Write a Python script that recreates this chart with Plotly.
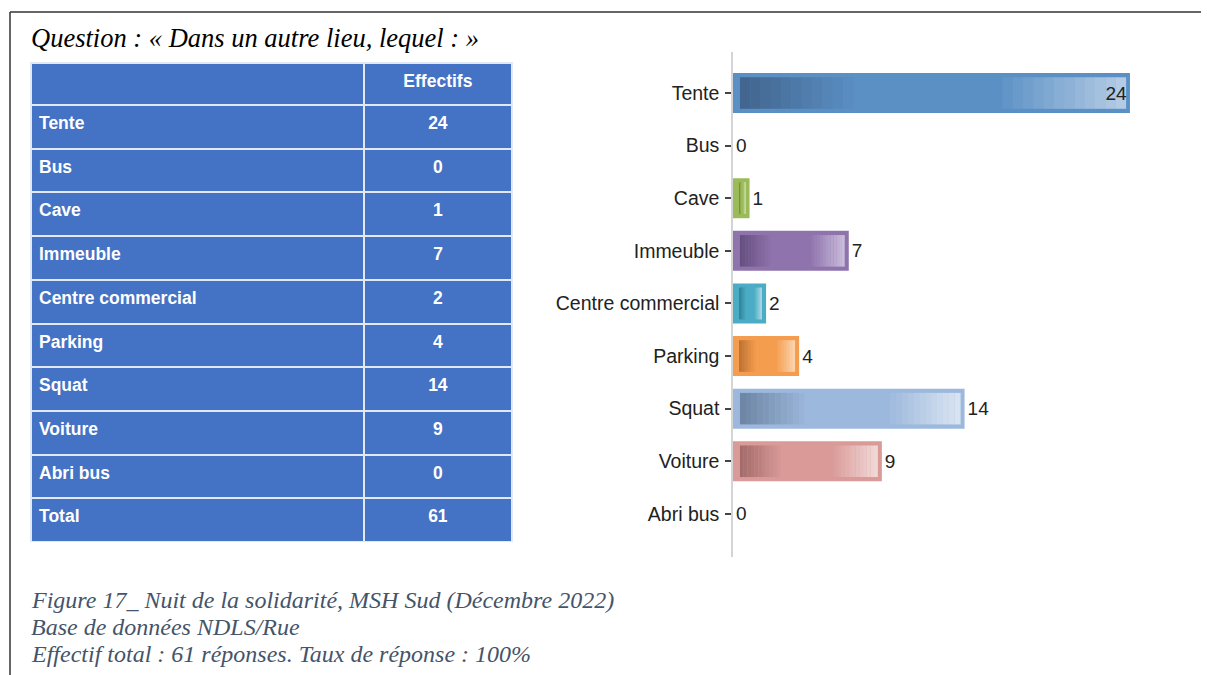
import plotly.graph_objects as go

# ---------------- data ----------------
categories = ["Tente", "Bus", "Cave", "Immeuble", "Centre commercial",
              "Parking", "Squat", "Voiture", "Abri bus"]
effectifs = [24, 0, 1, 7, 2, 4, 14, 9, 0]
total_label = "Total"
total_value = sum(effectifs)  # 61
header_labels = ["", "Effectifs"]

title_text = "Question : « Dans un autre lieu, lequel : »"
caption_lines = [
    "Figure 17_ Nuit de la solidarité, MSH Sud (Décembre 2022)",
    "Base de données NDLS/Rue",
    "Effectif total : 61 réponses. Taux de réponse : 100%",
]

# ---------------- styles ----------------
main_colors = ["#5b90c5", "#4f81bd", "#9bbb59", "#8f73ac", "#4bacc6",
               "#f59d4f", "#9cb8dc", "#d99a98", "#c0504d"]
dark_colors = ["#42668f", "#3a5f8c", "#76933c", "#664f80", "#31859c",
               "#c07433", "#6f86a5", "#a46d6b", "#8f3b39"]
light_colors = ["#b3cbe4", "#a7c0de", "#c3d69b", "#c9bcdb", "#a5d5e2",
                "#fbd2ab", "#d8e3f1", "#f0d8d7", "#e6b9b8"]

OFF = 8  # page body margin
W, H = 1209 - OFF, 675 - OFF


def px_x(p):
    return (p - OFF) / W


def px_y(p):
    return 1 - (p - OFF) / H


def hex2rgb(h):
    h = h.lstrip("#")
    return tuple(int(h[i:i + 2], 16) for i in (0, 2, 4))


def mix(c1, c2, t):
    a, b = hex2rgb(c1), hex2rgb(c2)
    return "rgb({},{},{})".format(*[round(a[i] + (b[i] - a[i]) * t) for i in range(3)])


SANS = "Liberation Sans, Arial, sans-serif"
SERIF = "Liberation Serif, Times New Roman, serif"

fig = go.Figure()

# ---------------- table ----------------
col1 = ["<b>%s</b>" % c for c in categories] + ["<b>%s</b>" % total_label]
col2 = ["<b>%d</b>" % v for v in effectifs] + ["<b>%d</b>" % total_value]
fig.add_trace(go.Table(
    domain=dict(x=[px_x(31), px_x(512)], y=[px_y(542), px_y(63)]),
    columnwidth=[333, 148],
    header=dict(values=["<b>%s</b>" % h for h in header_labels],
                fill_color="#4472c4", line=dict(color="#e2e8f4", width=2),
                align=["left", "center"], height=42,
                font=dict(family=SANS, size=17.5, color="white")),
    cells=dict(values=[col1, col2],
               fill_color="#4472c4", line=dict(color="#e2e8f4", width=2),
               align=["left", "center"], height=43.7,
               font=dict(family=SANS, size=17.5, color="white")),
))

# ---------------- bars ----------------
bar_w = 0.76
inner_w = 0.6
pad_l = 0.42
pad_r = 0.25
n_steps = 12

fig.add_trace(go.Bar(
    y=categories, x=effectifs, orientation="h", width=bar_w,
    marker=dict(color=main_colors, line=dict(width=0)),
    hoverinfo="y+x", showlegend=False, xaxis="x", yaxis="y",
))

# gradient overlays (dark -> main on the left, main -> light on the right)
for side in ("dark", "light"):
    for k in range(n_steps):
        bases, lens, cols = [], [], []
        for i, v in enumerate(effectifs):
            L = max(v - pad_l - pad_r, 0)
            frac = 0.32
            seg = frac * L
            step = seg / n_steps
            if side == "dark":
                b = pad_l + k * step
                c = mix(dark_colors[i], main_colors[i], k / (n_steps - 1))
            else:
                b = pad_l + (1 - frac) * L + k * step
                c = mix(main_colors[i], light_colors[i], (k + 1) / n_steps)
            bases.append(b)
            lens.append(step * 1.03 if v > 0 else 0)
            cols.append(c)
        fig.add_trace(go.Bar(
            y=categories, x=lens, base=bases, orientation="h", width=inner_w,
            marker=dict(color=cols, line=dict(width=0)),
            hoverinfo="skip", showlegend=False, xaxis="x", yaxis="y",
        ))

# value labels on top of everything
text_pos = ["inside" if v == max(effectifs) else "outside" for v in effectifs]
fig.add_trace(go.Bar(
    y=categories, x=effectifs, orientation="h", width=bar_w,
    marker=dict(color="rgba(0,0,0,0)", line=dict(width=0)),
    text=[str(v) for v in effectifs], textposition=text_pos,
    insidetextanchor="end",
    textfont=dict(family=SANS, size=19, color="#222222"),
    insidetextfont=dict(family=SANS, size=19, color="#222222"),
    outsidetextfont=dict(family=SANS, size=19, color="#222222"),
    cliponaxis=False, hoverinfo="skip", showlegend=False,
    xaxis="x", yaxis="y",
))

x_max = (1185 - 733) / 16.54

fig.update_layout(
    width=W, height=H,
    margin=dict(l=0, r=0, t=0, b=0),
    paper_bgcolor="white", plot_bgcolor="white",
    barmode="overlay",
    showlegend=False,
    xaxis=dict(domain=[px_x(733), px_x(1185)], range=[0, x_max],
               visible=False, fixedrange=True),
    yaxis=dict(domain=[px_y(557), px_y(52)],
               categoryorder="array", categoryarray=categories,
               range=[8.82, -0.78],
               showline=True, linecolor="#d4d4d4", linewidth=1.5,
               ticks="outside", ticklen=6, tickcolor="#444444", tickwidth=1.5,
               showgrid=False, zeroline=False,
               tickfont=dict(family=SANS, size=19.5, color="#222222"),
               ticklabelstandoff=2),
)

# ---------------- title & caption ----------------
fig.add_annotation(text=title_text, xref="paper", yref="paper",
                   x=px_x(29), y=px_y(38), xanchor="left", yanchor="middle",
                   showarrow=False,
                   font=dict(family=SERIF, size=26.5, color="#000000", style="italic"))
for j, line in enumerate(caption_lines):
    fig.add_annotation(text=line, xref="paper", yref="paper",
                       x=px_x(29), y=px_y(600 + j * 27), xanchor="left",
                       yanchor="middle", showarrow=False,
                       font=dict(family=SERIF, size=24, color="#44546a", style="italic"))

# ---------------- border ----------------
fig.add_shape(type="line", xref="paper", yref="paper",
              x0=px_x(10), x1=1, y0=px_y(12), y1=px_y(12),
              line=dict(color="#333333", width=1.5))
fig.add_shape(type="line", xref="paper", yref="paper",
              x0=px_x(10), x1=px_x(10), y0=px_y(12), y1=0,
              line=dict(color="#333333", width=1.5))

fig.write_html("out.html")
